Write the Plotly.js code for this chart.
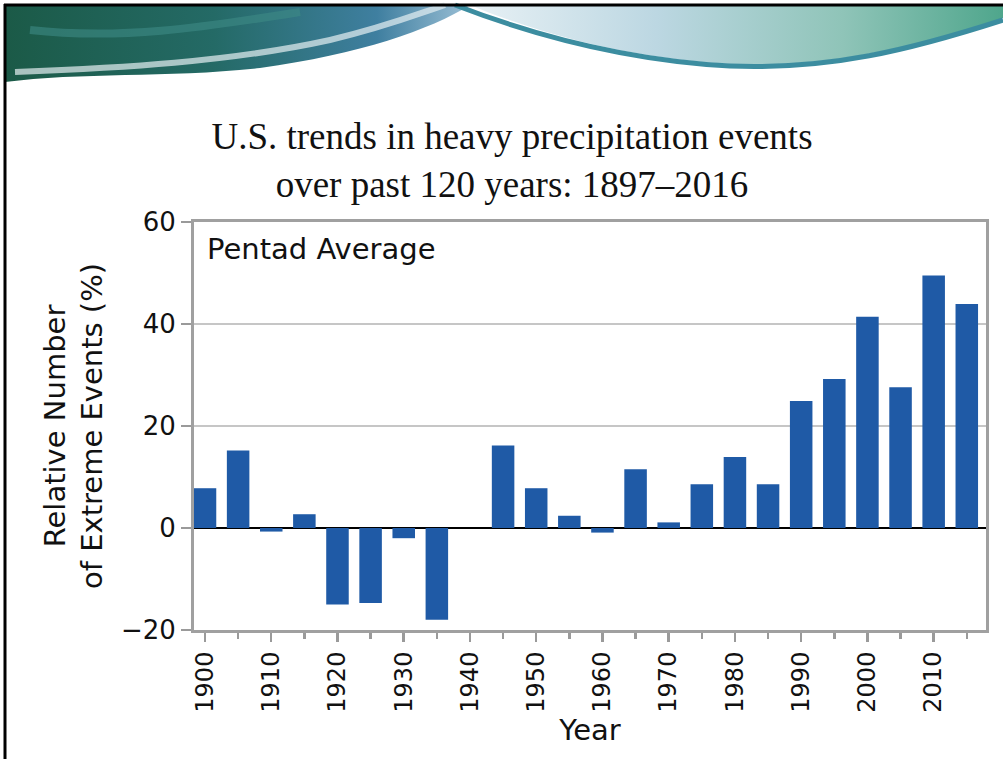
<!DOCTYPE html>
<html>
<head>
<meta charset="utf-8">
<script src="https://cdn.plot.ly/plotly-3.0.1.min.js"></script>
<style>html,body{margin:0;padding:0;background:#fff;}#chart{width:1003px;height:759px;}</style>
</head>
<body>
<div id="chart"></div>
<script>
// Pentad years (bar positions on the Year axis)
var pentadYears = [1900,1905,1910,1915,1920,1925,1930,1935,1940,1945,1950,1955,1960,1965,1970,1975,1980,1985,1990,1995,2000,2005,2010,2015];
// Relative number of extreme events (%), pentad average
var relativeEvents = [7.8,15.2,-0.7,2.7,-15.0,-14.7,-2.0,-18.0,0,16.2,7.8,2.4,-0.9,11.5,1.1,8.6,13.9,8.6,24.9,29.2,41.4,27.6,49.5,43.9];
// Labelled ticks on the Year axis
var yearTicks = [1900,1910,1920,1930,1940,1950,1960,1970,1980,1990,2000,2010];
var yearTickText = ["1900","1910","1920","1930","1940","1950","1960","1970","1980","1990","2000","2010"];
var valueTicks = [-20,0,20,40,60];

var W = 1003, H = 759, L = 194, R = 17, T = 222, B = 129;
var pw = W - L - R, ph = H - T - B;
function px(x){ return (x - L) / pw; }
function py(y){ return (H - B - y) / ph; }

var svg = "<svg xmlns='http://www.w3.org/2000/svg' width='1003' height='90' viewBox='0 0 1003 90'>" +
 "<defs>" +
 "<linearGradient id='g1' x1='0' y1='0' x2='1' y2='0'><stop offset='0' stop-color='#1b5a47'/><stop offset='0.45' stop-color='#246a66'/><stop offset='0.8' stop-color='#3f7fa0'/><stop offset='1' stop-color='#9cc0d6'/></linearGradient>" +
 "<linearGradient id='g2' x1='0' y1='0' x2='1' y2='0'><stop offset='0' stop-color='#e8f1f5'/><stop offset='0.35' stop-color='#bcd7e2'/><stop offset='0.7' stop-color='#8fc4b8'/><stop offset='1' stop-color='#4fa68c'/></linearGradient>" +
 "</defs>" +
 "<path d='M5,5 L470,5 C430,30 360,54 260,68 C170,78 80,72 5,82 Z' fill='url(#g1)'/>" +
 "<path d='M15,72 C120,68 230,62 330,40 C385,27 415,15 445,5' stroke='#e6f0f2' stroke-opacity='0.7' stroke-width='6' fill='none'/>" +
 "<path d='M30,30 C120,40 200,28 300,12' stroke='#3d8a86' stroke-opacity='0.6' stroke-width='8' fill='none'/>" +
 "<path d='M470,5 C530,30 620,58 730,64 C830,68 910,48 1003,18 L1003,5 Z' fill='url(#g2)'/>" +
 "<path d='M455,5 C525,32 620,60 730,66 C830,70 910,50 1003,20' fill='none' stroke='#3c8da0' stroke-width='5'/>" +
 "</svg>";
var svgUri = "data:image/svg+xml;charset=utf-8," + encodeURIComponent(svg);

var trace = {
  type: 'bar',
  x: pentadYears,
  y: relativeEvents,
  marker: {color: '#1f5aa6', line: {width: 0}},
  hoverinfo: 'x+y'
};

var sansFont = 'DejaVu Sans, Liberation Sans, Arial, sans-serif';

var layout = {
  width: W, height: H,
  margin: {l: L, r: R, t: T, b: B, pad: 0},
  paper_bgcolor: '#ffffff',
  plot_bgcolor: '#ffffff',
  showlegend: false,
  bargap: 0.32,
  title: {
    text: 'U.S. trends in heavy precipitation events<br>over past 120 years: 1897\u20132016',
    font: {family: 'Liberation Serif, Times New Roman, serif', size: 37, color: '#111111'},
    xref: 'container', x: 512 / W, xanchor: 'center',
    yref: 'container', y: 1 - 149 / H, yanchor: 'middle'
  },
  xaxis: {
    range: [1898.34, 2017.9],
    tickmode: 'array', tickvals: yearTicks, ticktext: yearTickText,
    tickangle: -90,
    ticks: 'outside', ticklen: 9, tickwidth: 2.5, tickcolor: '#9a9a9a',
    minor: {tickmode: 'linear', tick0: 1900, dtick: 5, ticks: 'outside', ticklen: 6, tickwidth: 2.5, tickcolor: '#9a9a9a', showgrid: false},
    showgrid: false, zeroline: false,
    showline: true, mirror: true, linecolor: '#a0a0a0', linewidth: 3,
    tickfont: {family: sansFont, size: 24, color: '#111111'},
    title: {text: 'Year', font: {family: sansFont, size: 29, color: '#111111'}, standoff: 6},
    fixedrange: true
  },
  yaxis: {
    range: [-20, 60],
    tickmode: 'array', tickvals: valueTicks,
    ticks: 'outside', ticklen: 10, tickwidth: 2.5, tickcolor: '#9a9a9a',
    showgrid: true, gridcolor: '#c6c6c6', gridwidth: 2,
    zeroline: true, zerolinecolor: '#000000', zerolinewidth: 2.5,
    showline: true, mirror: true, linecolor: '#a0a0a0', linewidth: 3,
    tickfont: {family: sansFont, size: 26, color: '#111111'},
    title: {text: 'Relative Number<br>of Extreme Events (%)', font: {family: sansFont, size: 29, color: '#111111'}, standoff: 10},
    fixedrange: true
  },
  annotations: [{
    text: 'Pentad Average', showarrow: false,
    xref: 'paper', yref: 'paper', x: px(205), y: py(230), xanchor: 'left', yanchor: 'top',
    font: {family: sansFont, size: 29, color: '#111111'}
  }],
  images: [{
    source: svgUri, xref: 'paper', yref: 'paper',
    x: px(0), y: py(0), sizex: W / pw, sizey: 90 / ph,
    xanchor: 'left', yanchor: 'top', sizing: 'stretch', layer: 'below'
  }],
  shapes: [
    {type: 'line', xref: 'paper', yref: 'paper', x0: px(5), x1: px(5), y0: py(4), y1: py(760), line: {color: '#000000', width: 3}},
    {type: 'line', xref: 'paper', yref: 'paper', x0: px(4), x1: px(1003), y0: py(5), y1: py(5), line: {color: '#000000', width: 3}}
  ]
};

Plotly.newPlot('chart', [trace], layout, {displayModeBar: false, staticPlot: true});
</script>
</body>
</html>
